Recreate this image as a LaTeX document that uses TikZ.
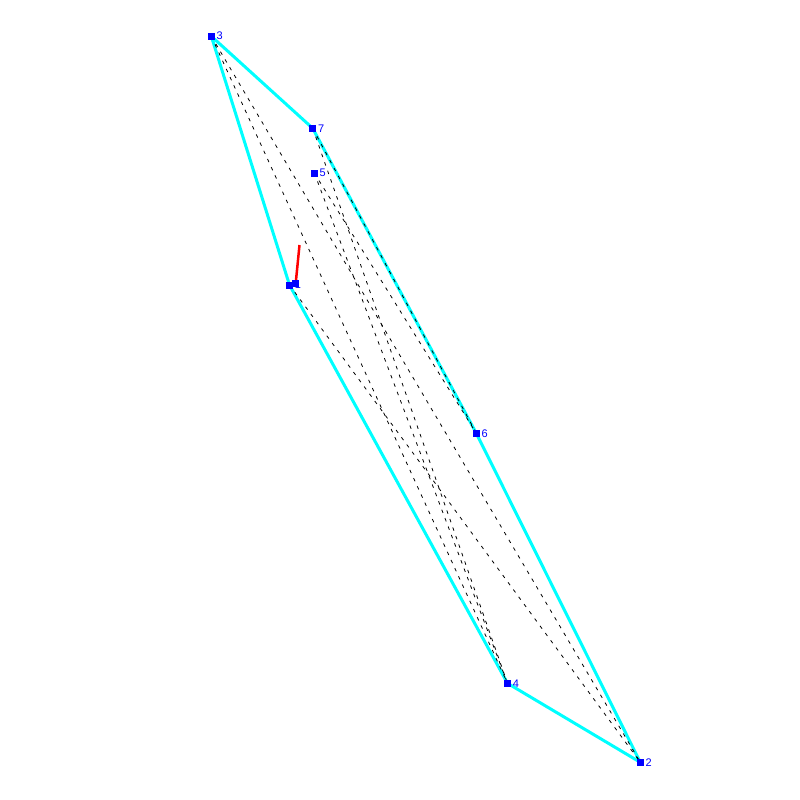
\documentclass[tikz,border=0pt]{standalone}
\usepackage{fontspec}
\setmainfont{Liberation Sans}
\definecolor{hullcyan}{RGB}{0,255,255}
\definecolor{ptblue}{RGB}{0,0,255}
\definecolor{segred}{RGB}{255,0,0}
\begin{document}
\begin{tikzpicture}[x=1pt,y=-1pt,
  hull/.style={hullcyan, line width=3pt},
  dline/.style={black, line width=0.8pt, dash pattern=on 3.5pt off 5.5pt},
  ptbox/.style={rectangle, fill=ptblue, draw=none, minimum size=7pt, inner sep=0pt},
  lbl/.style={text=ptblue, font=\fontsize{11}{13}\selectfont, anchor=west, inner sep=0pt},
  redline/.style={segred, line width=2.5pt}
]
\useasboundingbox (0,0) rectangle (800,800);
% point positions
\coordinate (c1) at (289.5,285);
\coordinate (c1b) at (295.7,283.3);
\coordinate (c2) at (640.3,762.3);
\coordinate (c3) at (211.3,36.2);
\coordinate (c4) at (507.5,683.3);
\coordinate (c5) at (314.3,173);
\coordinate (c6) at (476.3,433.3);
\coordinate (c7) at (312.7,128.3);
\coordinate (rtip) at (299.5,245);
% hull
\draw[hull, line join=round] (c3) -- (c7) -- (c6) -- (c2) -- (c4) -- (c1) -- cycle;
% dashed segments
\draw[dline] (c3) -- (c4);
\draw[dline] (c3) -- (c2);
\draw[dline] (c5) -- (c4);
\draw[dline] (c5) -- (c6);
\draw[dline] (c7) -- (c4);
\draw[dline] (c1) -- (c2);
\draw[dline] (c7) -- (c6);
% red segment
\draw[redline] (c1b) -- (rtip);
% points and labels
\foreach \n in {2,3,4,5,6,7} {
  \node[ptbox] (p\n) at (c\n) {};
  \node[lbl] (l\n) at ([xshift=1.5pt]p\n.east) {\n};
}
\node[ptbox] (p1) at (c1) {};
\node[lbl] (l1) at ([xshift=1.5pt]p1.east) {1};
\node[ptbox] (p1b) at (c1b) {};
\end{tikzpicture}
\end{document}
